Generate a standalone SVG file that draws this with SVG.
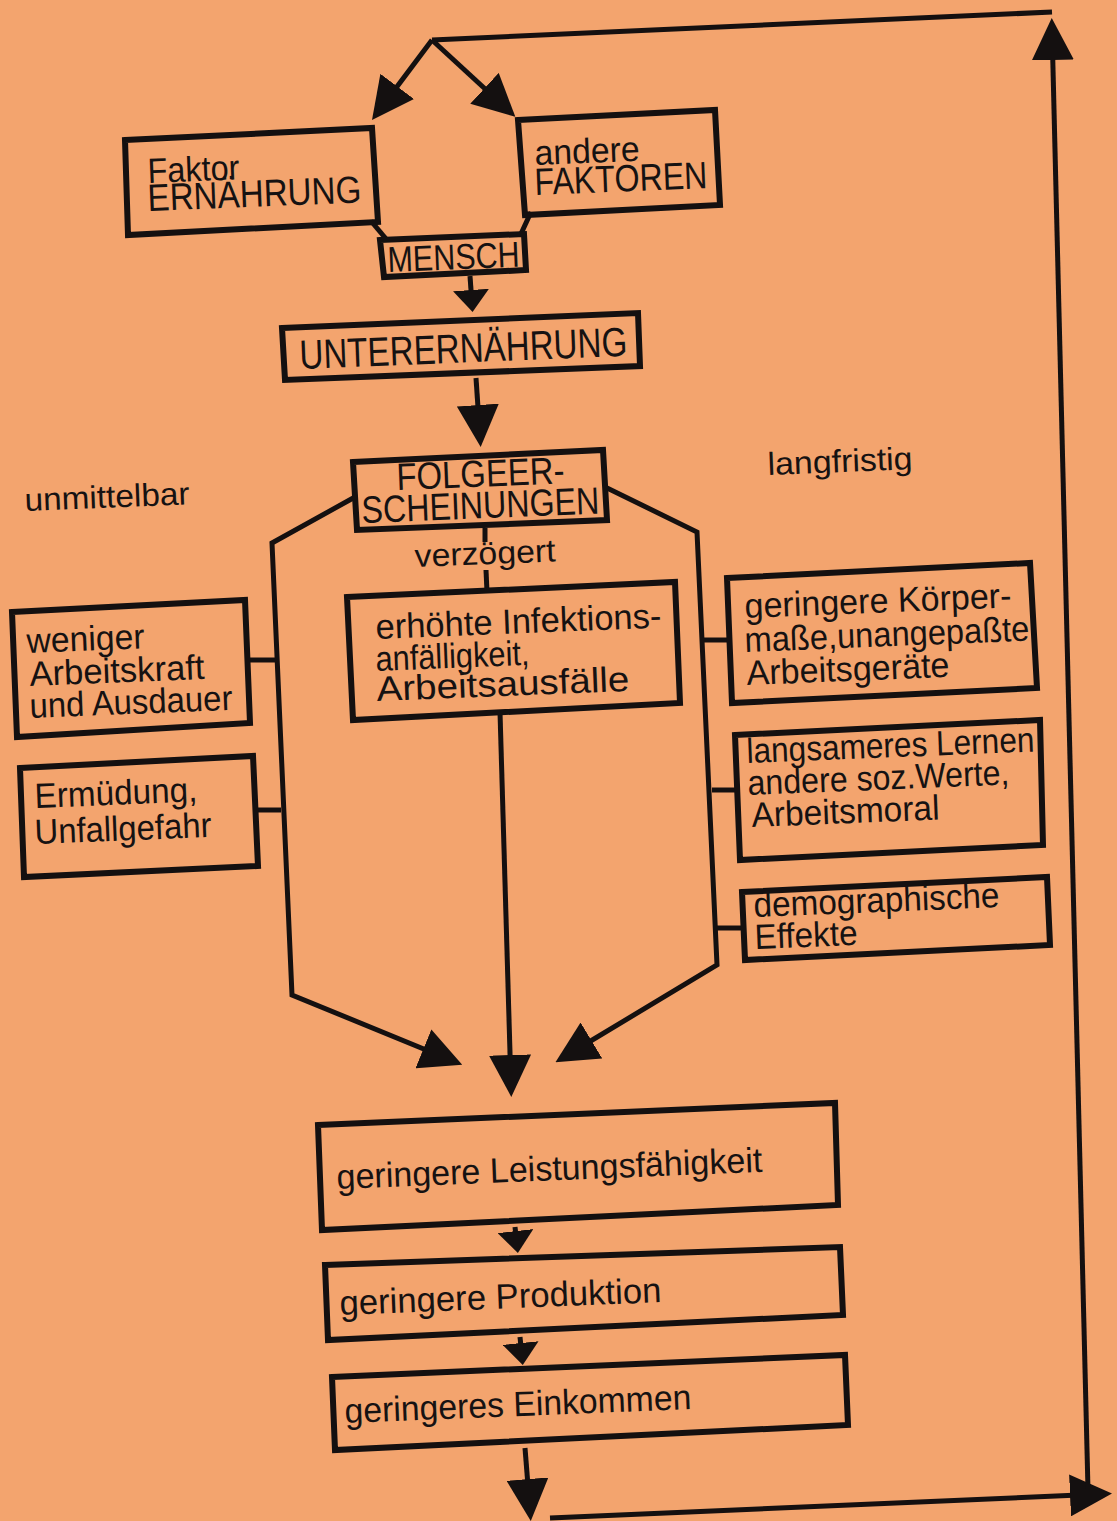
<svg xmlns="http://www.w3.org/2000/svg" width="1117" height="1521" viewBox="0 0 1117 1521">
<defs>
<style>
.box{fill:none;stroke:#141010;stroke-width:6;stroke-linejoin:miter}
.ln{fill:none;stroke:#141010;stroke-width:5;stroke-linejoin:miter}
text{font-family:"Liberation Sans",Arial,sans-serif;fill:#161212}
.t{font-size:35px}
.tb{font-size:38px}
.lb{font-size:32px}
.bt{font-size:35px}
</style>
<marker id="ah" markerUnits="userSpaceOnUse" viewBox="0 0 42 42" refX="32" refY="21" markerWidth="42" markerHeight="42" orient="auto"><path d="M0,0 L42,21 L0,42 z" fill="#141010"/></marker>
<marker id="ahs" markerUnits="userSpaceOnUse" viewBox="0 0 22 36" refX="14" refY="18" markerWidth="22" markerHeight="36" orient="auto"><path d="M0,0 L22,18 L0,36 z" fill="#141010"/></marker>
</defs>
<rect x="0" y="0" width="1117" height="1521" fill="#F3A46E"/>

<g id="connectors">
<line class="ln" x1="432" y1="40" x2="1052" y2="12"/>
<line class="ln" x1="432" y1="40" x2="378" y2="112" marker-end="url(#ah)"/>
<line class="ln" x1="432" y1="40" x2="508" y2="110" marker-end="url(#ah)"/>
<line class="ln" x1="371" y1="221" x2="387" y2="240"/>
<line class="ln" x1="531" y1="212" x2="520" y2="236"/>
<line class="ln" x1="470" y1="276" x2="472" y2="304" marker-end="url(#ahs)"/>
<line class="ln" x1="476" y1="378" x2="480" y2="437" marker-end="url(#ah)"/>
<line class="ln" x1="485" y1="528" x2="485" y2="542"/>
<line class="ln" x1="486" y1="570" x2="487" y2="592"/>
<polyline class="ln" points="355,497 272,543 292,995 453,1061" marker-end="url(#ah)"/>
<polyline class="ln" points="605,487 697,532 717,965 564,1057" marker-end="url(#ah)"/>
<line class="ln" x1="500" y1="712" x2="511" y2="1087" marker-end="url(#ah)"/>
<line class="ln" x1="248" y1="660" x2="276" y2="660"/>
<line class="ln" x1="255" y1="810" x2="281" y2="810"/>
<line class="ln" x1="702" y1="640" x2="731" y2="640"/>
<line class="ln" x1="712" y1="790" x2="738" y2="790"/>
<line class="ln" x1="716" y1="928" x2="745" y2="928"/>
<line class="ln" x1="515" y1="1227" x2="517" y2="1245" marker-end="url(#ahs)"/>
<line class="ln" x1="520" y1="1337" x2="522" y2="1357" marker-end="url(#ahs)"/>
<line class="ln" x1="525" y1="1448" x2="530" y2="1511" marker-end="url(#ah)"/>
<line class="ln" x1="550" y1="1518" x2="1102" y2="1494" marker-end="url(#ah)"/>
<line class="ln" x1="1088" y1="1490" x2="1052" y2="28" marker-end="url(#ah)"/>
</g>

<g id="n-ernaehrung">
<polygon class="box" points="125,140 372,128 378,222 128,235"/>
<text class="t" x="148" y="183" transform="rotate(-2.3 148 183)" textLength="92" lengthAdjust="spacingAndGlyphs">Faktor</text>
<text class="tb" x="148" y="211" transform="rotate(-2.3 148 211)" textLength="214" lengthAdjust="spacingAndGlyphs">ERNÄHRUNG</text>
</g>
<g id="n-faktoren">
<polygon class="box" points="518,120 715,110 720,205 525,215"/>
<text class="t" x="535" y="165" transform="rotate(-2.3 535 165)" textLength="105" lengthAdjust="spacingAndGlyphs">andere</text>
<text class="tb" x="535" y="195" transform="rotate(-2.3 535 195)" textLength="173" lengthAdjust="spacingAndGlyphs">FAKTOREN</text>
</g>
<g id="n-mensch">
<polygon class="box" points="380,240 524,234 526,270 384,277"/>
<text x="388" y="272" font-size="36" transform="rotate(-2.3 388 272)" textLength="132" lengthAdjust="spacingAndGlyphs">MENSCH</text>
</g>
<g id="n-unterernaehrung">
<polygon class="box" points="282,328 638,313 640,366 285,380"/>
<text x="300" y="369" font-size="41" transform="rotate(-2.3 300 369)" textLength="328" lengthAdjust="spacingAndGlyphs">UNTERERNÄHRUNG</text>
</g>
<g id="n-folge">
<polygon class="box" points="353,462 603,450 607,520 357,530"/>
<text class="tb" x="397" y="490" transform="rotate(-2.3 397 490)" textLength="168" lengthAdjust="spacingAndGlyphs">FOLGEER-</text>
<text class="tb" x="362" y="523" transform="rotate(-2.3 362 523)" textLength="238" lengthAdjust="spacingAndGlyphs">SCHEINUNGEN</text>
</g>
<g id="labels">
<text class="lb" x="415" y="567" transform="rotate(-2.3 415 567)" textLength="141" lengthAdjust="spacingAndGlyphs">verzögert</text>
<text class="lb" x="25" y="511" transform="rotate(-2.3 25 511)" textLength="165" lengthAdjust="spacingAndGlyphs">unmittelbar</text>
<text class="lb" x="768" y="475" transform="rotate(-2.3 768 475)" textLength="145" lengthAdjust="spacingAndGlyphs">langfristig</text>
</g>
<g id="n-infektion">
<polygon class="box" points="347,597 675,582 680,703 353,720"/>
<text class="t" x="376" y="639" transform="rotate(-2.3 376 639)" textLength="286" lengthAdjust="spacingAndGlyphs">erhöhte Infektions-</text>
<text class="t" x="376" y="671" transform="rotate(-2.3 376 671)" textLength="154" lengthAdjust="spacingAndGlyphs">anfälligkeit,</text>
<text class="t" x="377" y="701" transform="rotate(-2.3 377 701)" textLength="253" lengthAdjust="spacingAndGlyphs">Arbeitsausfälle</text>
</g>
<g id="n-weniger">
<polygon class="box" points="12,612 245,600 250,723 17,737"/>
<text class="t" x="27" y="653" transform="rotate(-2.3 27 653)" textLength="118" lengthAdjust="spacingAndGlyphs">weniger</text>
<text class="t" x="30" y="686" transform="rotate(-2.3 30 686)" textLength="175" lengthAdjust="spacingAndGlyphs">Arbeitskraft</text>
<text class="t" x="30" y="718" transform="rotate(-2.3 30 718)" textLength="203" lengthAdjust="spacingAndGlyphs">und Ausdauer</text>
</g>
<g id="n-ermuedung">
<polygon class="box" points="20,768 253,756 258,866 24,877"/>
<text class="t" x="35" y="808" transform="rotate(-2.3 35 808)" textLength="163" lengthAdjust="spacingAndGlyphs">Ermüdung,</text>
<text class="t" x="35" y="844" transform="rotate(-2.3 35 844)" textLength="177" lengthAdjust="spacingAndGlyphs">Unfallgefahr</text>
</g>
<g id="n-koerper">
<polygon class="box" points="727,578 1030,563 1037,688 732,703"/>
<text class="t" x="745" y="618" transform="rotate(-2.3 745 618)" textLength="267" lengthAdjust="spacingAndGlyphs">geringere Körper-</text>
<text class="t" x="745" y="652" transform="rotate(-2.3 745 652)" textLength="285" lengthAdjust="spacingAndGlyphs">maße,unangepaßte</text>
<text class="t" x="747" y="685" transform="rotate(-2.3 747 685)" textLength="203" lengthAdjust="spacingAndGlyphs">Arbeitsgeräte</text>
</g>
<g id="n-lernen">
<polygon class="box" points="735,735 1040,720 1043,845 740,860"/>
<text class="t" x="747" y="763" transform="rotate(-2.3 747 763)" textLength="288" lengthAdjust="spacingAndGlyphs">langsameres Lernen</text>
<text class="t" x="748" y="795" transform="rotate(-2.3 748 795)" textLength="262" lengthAdjust="spacingAndGlyphs">andere soz.Werte,</text>
<text class="t" x="752" y="827" transform="rotate(-2.3 752 827)" textLength="188" lengthAdjust="spacingAndGlyphs">Arbeitsmoral</text>
</g>
<g id="n-demographie">
<polygon class="box" points="742,892 1047,877 1050,945 745,960"/>
<text class="t" x="754" y="917" transform="rotate(-2.3 754 917)" textLength="246" lengthAdjust="spacingAndGlyphs">demographische</text>
<text class="t" x="755" y="949" transform="rotate(-2.3 755 949)" textLength="103" lengthAdjust="spacingAndGlyphs">Effekte</text>
</g>
<g id="n-leistung">
<polygon class="box" points="318,1125 835,1103 838,1205 322,1230"/>
<text class="bt" x="337" y="1189" transform="rotate(-2.3 337 1189)" textLength="426" lengthAdjust="spacingAndGlyphs">geringere Leistungsfähigkeit</text>
</g>
<g id="n-produktion">
<polygon class="box" points="325,1265 840,1247 843,1315 328,1340"/>
<text class="bt" x="340" y="1315" transform="rotate(-2.3 340 1315)" textLength="322" lengthAdjust="spacingAndGlyphs">geringere Produktion</text>
</g>
<g id="n-einkommen">
<polygon class="box" points="332,1377 845,1355 848,1425 335,1450"/>
<text class="bt" x="345" y="1423" transform="rotate(-2.3 345 1423)" textLength="347" lengthAdjust="spacingAndGlyphs">geringeres Einkommen</text>
</g>
</svg>
